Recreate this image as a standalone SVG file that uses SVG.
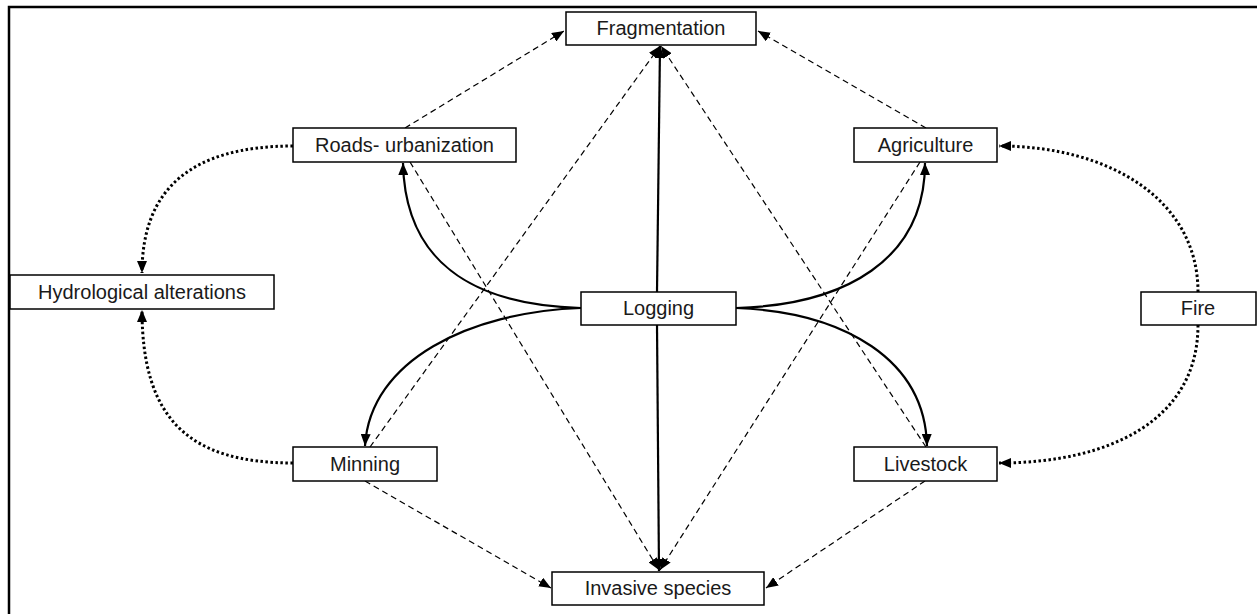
<svg xmlns="http://www.w3.org/2000/svg" width="1257" height="614" viewBox="0 0 1257 614">
<style>
.box{fill:#fff;stroke:#000;stroke-width:1.5}
.lbl{font-family:"Liberation Sans",Arial,sans-serif;font-size:20px;fill:#1a1a1a;text-anchor:middle}
.solid{fill:none;stroke:#000;stroke-width:2.2}
.dash{fill:none;stroke:#000;stroke-width:1.2;stroke-dasharray:6 4}
.dot{fill:none;stroke:#000;stroke-width:3;stroke-dasharray:2.5 2.5}
</style>
<defs>
<marker id="arr" markerUnits="userSpaceOnUse" markerWidth="12" markerHeight="10" refX="12" refY="5" orient="auto">
<path d="M0,0 L12,5 L0,10 z" fill="#000"/>
</marker>
</defs>
<rect x="0" y="0" width="1257" height="614" fill="#fff"/>
<path d="M9,614 V7 H1257" fill="none" stroke="#000" stroke-width="2.5"/>
<g id="connectors">
<path class="dash" d="M405,128 L564,31" marker-end="url(#arr)"/>
<path class="dash" d="M926,128 L758,31" marker-end="url(#arr)"/>
<path class="dash" d="M365,481 L551,588" marker-end="url(#arr)"/>
<path class="dash" d="M925,481 L766,588" marker-end="url(#arr)"/>
<path class="dash" d="M410,162 L659,570" marker-end="url(#arr)"/>
<path class="dash" d="M920,162 L660,570" marker-end="url(#arr)"/>
<path class="dash" d="M370,447 L660,46" marker-end="url(#arr)"/>
<path class="dash" d="M926,447 L661,46" marker-end="url(#arr)"/>
<path class="solid" d="M657,292 L660,46" marker-end="url(#arr)"/>
<path class="solid" d="M657,325 L659,571" marker-end="url(#arr)"/>
<path class="solid" d="M581,308 C470,305 405,260 403,163" marker-end="url(#arr)"/>
<path class="solid" d="M581,308 C470,312 370,360 365,446" marker-end="url(#arr)"/>
<path class="solid" d="M736,308 C845,305 925,260 925,163" marker-end="url(#arr)"/>
<path class="solid" d="M736,308 C845,312 925,360 927,446" marker-end="url(#arr)"/>
<path class="dot" d="M293,146 C190,146 142,190 142,273" marker-end="url(#arr)"/>
<path class="dot" d="M293,463 C190,463 142,420 142,310" marker-end="url(#arr)"/>
<path class="dot" d="M1198,292 C1198,200 1110,146 999,146" marker-end="url(#arr)"/>
<path class="dot" d="M1198,325 C1198,420 1110,463 999,463" marker-end="url(#arr)"/>
</g>
<g id="fragmentation"><rect class="box" x="566" y="12" width="190" height="33"/><text class="lbl" x="661" y="35">Fragmentation</text></g>
<g id="roads"><rect class="box" x="293" y="128" width="223" height="34"/><text class="lbl" x="404.5" y="152">Roads- urbanization</text></g>
<g id="agriculture"><rect class="box" x="854" y="128" width="143" height="34"/><text class="lbl" x="925.5" y="152">Agriculture</text></g>
<g id="hydrological"><rect class="box" x="10" y="275" width="264" height="34"/><text class="lbl" x="142" y="299">Hydrological alterations</text></g>
<g id="logging"><rect class="box" x="581" y="292" width="155" height="33"/><text class="lbl" x="658.5" y="315">Logging</text></g>
<g id="fire"><rect class="box" x="1141" y="292" width="115" height="33"/><text class="lbl" x="1198" y="315">Fire</text></g>
<g id="minning"><rect class="box" x="293" y="447" width="144" height="34"/><text class="lbl" x="365" y="471">Minning</text></g>
<g id="livestock"><rect class="box" x="854" y="447" width="143" height="34"/><text class="lbl" x="925.5" y="471">Livestock</text></g>
<g id="invasive"><rect class="box" x="552" y="572" width="212" height="33"/><text class="lbl" x="658" y="595">Invasive species</text></g>
</svg>
